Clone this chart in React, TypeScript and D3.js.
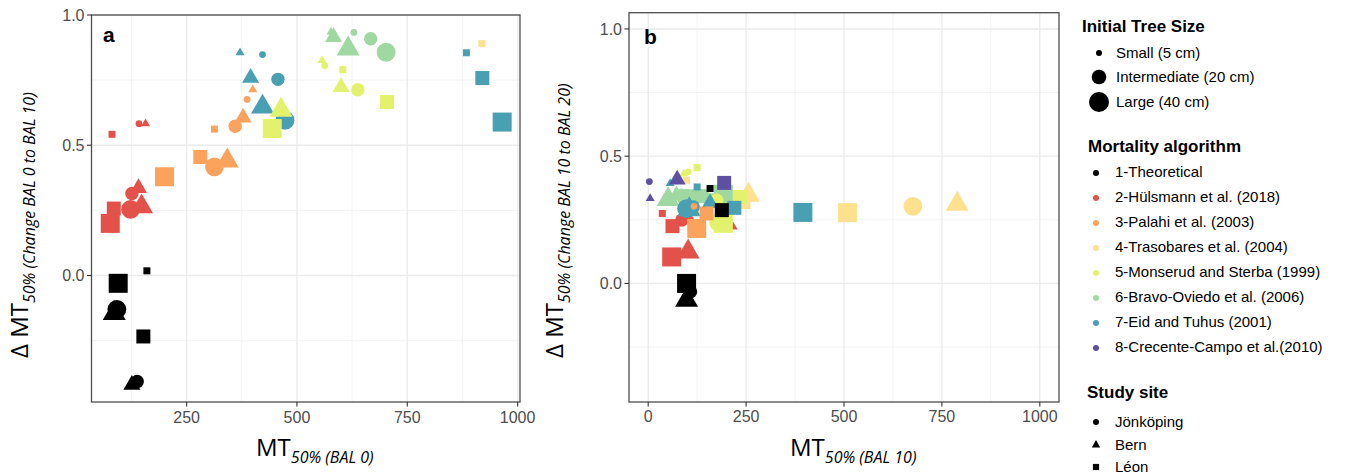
import React from 'react';
import * as d3 from 'd3';

const algorithms = [
  '1-Theoretical',
  '2-Hülsmann et al. (2018)',
  '3-Palahi et al. (2003)',
  '4-Trasobares et al. (2004)',
  '5-Monserud and Sterba (1999)',
  '6-Bravo-Oviedo et al. (2006)',
  '7-Eid and Tuhus (2001)',
  '8-Crecente-Campo et al.(2010)',
];
const algColors = ['#000000', '#E2514A', '#FBA35C', '#FEE18F', '#E3F26C', '#9FD8A0', '#4AA0B3', '#5E4FA2'];
const sizeLabels = ['Small (5 cm)', 'Intermediate (20 cm)', 'Large (40 cm)'];
const siteLabels = ['Jönköping', 'Bern', 'Léon'];

const xTicksA = [250, 500, 750, 1000];
const xMinorA = [125, 375, 625, 875];
const xTicksB = [0, 250, 500, 750, 1000];
const xMinorB = [125, 375, 625, 875];
const yTicks = [0, 0.5, 1.0];
const yMinor = [-0.25, 0.25, 0.75];

// [algorithm, size, site, MT50%, delta MT50%]
// panel a: BAL 0 -> BAL 10
const pointsA: number[][] = [
  [1, 0, 2, 81, 0.542], [1, 1, 2, 85, 0.257], [1, 2, 2, 77, 0.2],
  [1, 0, 0, 142, 0.583], [1, 1, 0, 126, 0.315], [1, 2, 0, 123, 0.254],
  [1, 0, 1, 157, 0.583], [1, 1, 1, 141, 0.336], [1, 2, 1, 148, 0.264],
  [2, 0, 2, 313, 0.562], [2, 1, 2, 281, 0.455], [2, 2, 2, 200, 0.379],
  [2, 0, 0, 387, 0.676], [2, 1, 0, 360, 0.573], [2, 2, 0, 313, 0.417],
  [2, 0, 1, 400, 0.713], [2, 1, 1, 378, 0.606], [2, 2, 1, 342, 0.44],
  [6, 0, 1, 371, 0.855], [6, 0, 0, 422, 0.848], [6, 1, 1, 395, 0.759],
  [6, 1, 0, 457, 0.753], [6, 2, 1, 422, 0.647], [6, 2, 0, 473, 0.596],
  [6, 0, 2, 884, 0.855], [6, 1, 2, 920, 0.758], [6, 2, 2, 965, 0.589],
  [4, 0, 1, 557, 0.826], [4, 0, 0, 563, 0.806], [4, 0, 2, 604, 0.79],
  [4, 1, 1, 600, 0.723], [4, 1, 0, 638, 0.713], [4, 1, 2, 704, 0.666],
  [4, 2, 2, 444, 0.564], [4, 2, 1, 464, 0.635],
  [5, 0, 1, 577, 0.934], [5, 1, 1, 583, 0.915], [5, 2, 1, 616, 0.87],
  [5, 0, 0, 629, 0.933], [5, 1, 0, 667, 0.909], [5, 2, 0, 702, 0.857],
  [3, 0, 2, 919, 0.89],
  [0, 0, 0, 140, -0.41], [0, 2, 2, 95, -0.03], [0, 0, 2, 160, 0.018],
  [0, 1, 2, 152, -0.234], [0, 2, 0, 92, -0.13], [0, 2, 1, 86, -0.145],
  [0, 1, 0, 138, -0.407], [0, 1, 1, 126, -0.42],
];

// panel b: BAL 10 -> BAL 20
const pointsB: number[][] = [
  [5, 2, 1, 51, 0.33], [5, 1, 1, 72, 0.345], [5, 2, 0, 98, 0.335], [5, 1, 0, 115, 0.345],
  [5, 1, 2, 137, 0.343], [5, 2, 2, 192, 0.35], [5, 0, 0, 85, 0.36], [5, 0, 1, 130, 0.355],
  [5, 0, 2, 160, 0.34],
  [1, 0, 2, 36, 0.275], [1, 1, 2, 62, 0.225], [1, 2, 2, 60, 0.104], [1, 2, 1, 102, 0.124],
  [1, 1, 0, 86, 0.249], [1, 1, 1, 100, 0.26], [1, 0, 1, 217, 0.222],
  [3, 0, 2, 98, 0.405], [3, 1, 2, 243, 0.32], [3, 2, 1, 256, 0.347],
  [3, 2, 2, 509, 0.278], [3, 2, 0, 676, 0.303], [3, 2, 1, 789, 0.312],
  [4, 0, 1, 91, 0.43], [4, 0, 0, 102, 0.438], [4, 0, 2, 125, 0.455],
  [4, 1, 0, 175, 0.327], [4, 1, 1, 175, 0.32], [4, 2, 0, 180, 0.24],
  [4, 2, 2, 192, 0.236], [4, 1, 2, 234, 0.34],
  [6, 0, 1, 56, 0.393], [6, 0, 2, 125, 0.379], [6, 2, 1, 105, 0.29],
  [6, 2, 0, 98, 0.294], [6, 1, 0, 115, 0.3], [6, 1, 1, 158, 0.316],
  [6, 1, 2, 220, 0.297], [6, 2, 2, 395, 0.279],
  [2, 2, 2, 124, 0.216], [2, 1, 2, 149, 0.275], [2, 0, 0, 117, 0.303],
  [7, 0, 0, 3, 0.4], [7, 0, 1, 5, 0.334], [7, 1, 1, 74, 0.408], [7, 1, 2, 194, 0.395],
  [0, 0, 2, 158, 0.373], [0, 1, 2, 188, 0.288], [0, 1, 0, 108, -0.033],
  [0, 2, 2, 98, 0.0], [0, 2, 1, 98, -0.066],
];

const shapes = [d3.symbolCircle, d3.symbolTriangle, d3.symbolSquare];
// marker extent in px per site shape (circle diameter, triangle width, square side) and size
const extents = [[6.8, 13.4, 18.8], [9, 17, 23], [7, 14, 19]];

function markArea(site: number, d: number) {
  if (site === 0) return (Math.PI * d * d) / 4;
  if (site === 1) return (Math.sqrt(3) * d * d) / 4;
  return d * d;
}
function markPath(site: number, d: number) {
  return d3.symbol(shapes[site], markArea(site, d))() as string;
}

const tickFont = "'Liberation Sans', Arial, sans-serif";
const titleFont = "'Open Sans', sans-serif";

type PanelProps = {
  pts: number[][];
  x: d3.ScaleLinear<number, number>;
  y: d3.ScaleLinear<number, number>;
  xTicks: number[];
  xMinor: number[];
  tag: string;
  tagX: number;
  tagY: number;
  xSub: string;
  xTitleX: number;
  ySub: string;
  yTitleX: number;
  labelY: number;
};

function Panel(p: PanelProps) {
  const { x, y } = p;
  const [x0, x1] = x.range();
  const [yb, yt] = y.range();
  return (
    <g>
      <rect x={x0} y={yt} width={x1 - x0} height={yb - yt} fill="#fff" />
      {yMinor.map((v) => (
        <line key={'ym' + v} x1={x0} x2={x1} y1={y(v)} y2={y(v)} stroke="#F0F0F0" strokeWidth={0.8} />
      ))}
      {p.xMinor.map((v) => (
        <line key={'xm' + v} y1={yt} y2={yb} x1={x(v)} x2={x(v)} stroke="#F0F0F0" strokeWidth={0.8} />
      ))}
      {yTicks.map((v) => (
        <line key={'yM' + v} x1={x0} x2={x1} y1={y(v)} y2={y(v)} stroke="#EBEBEB" strokeWidth={1.4} />
      ))}
      {p.xTicks.map((v) => (
        <line key={'xM' + v} y1={yt} y2={yb} x1={x(v)} x2={x(v)} stroke="#EBEBEB" strokeWidth={1.4} />
      ))}
      {p.pts.map((d, i) => (
        <path
          key={i}
          d={markPath(d[2], extents[d[2]][d[1]])}
          transform={`translate(${x(d[3])},${y(d[4])})`}
          fill={algColors[d[0]]}
        />
      ))}
      <rect x={x0} y={yt} width={x1 - x0} height={yb - yt} fill="none" stroke="#4D4D4D" strokeWidth={1.3} />
      {yTicks.map((v) => (
        <g key={'yt' + v}>
          <line x1={x0 - 4.5} x2={x0} y1={y(v)} y2={y(v)} stroke="#333" strokeWidth={1.1} />
          <text x={x0 - 7} y={y(v)} dy="0.36em" textAnchor="end" fontFamily={tickFont} fontSize={16} fill="#4D4D4D">
            {d3.format('.1f')(v)}
          </text>
        </g>
      ))}
      {p.xTicks.map((v) => (
        <g key={'xt' + v}>
          <line x1={x(v)} x2={x(v)} y1={yb} y2={yb + 4.5} stroke="#333" strokeWidth={1.1} />
          <text x={x(v)} y={p.labelY} textAnchor="middle" fontFamily={tickFont} fontSize={16} fill="#4D4D4D">
            {v}
          </text>
        </g>
      ))}
      <text x={p.tagX} y={p.tagY} fontFamily={tickFont} fontWeight="bold" fontSize={21} fill="#000">
        {p.tag}
      </text>
      <text x={p.xTitleX} y={456} fontFamily={titleFont} fontSize={24} fill="#000">
        <tspan>MT</tspan>
        <tspan fontSize={16} fontStyle="italic" dy={7}>{p.xSub}</tspan>
      </text>
      <text transform={`translate(${p.yTitleX},358) rotate(-90)`} fontFamily={titleFont} fontSize={24} fill="#000">
        <tspan>Δ MT</tspan>
        <tspan fontSize={16} fontStyle="italic" dy={7}>{p.ySub}</tspan>
      </text>
    </g>
  );
}

function Legend() {
  const sizeR = [3, 7.3, 10];
  const sizeY = [53, 77, 102];
  return (
    <g fontFamily={tickFont} fill="#000">
      <text x={1082} y={32} fontWeight="bold" fontSize={17}>Initial Tree Size</text>
      {sizeLabels.map((s, i) => (
        <g key={s}>
          <circle cx={1099} cy={sizeY[i]} r={sizeR[i]} fill="#000" />
          <text x={1116} y={sizeY[i] + 5} fontSize={15}>{s}</text>
        </g>
      ))}
      <text x={1088} y={152} fontWeight="bold" fontSize={17}>Mortality algorithm</text>
      {algorithms.map((a, i) => (
        <g key={a}>
          <circle cx={1096} cy={177 + 25 * i - 4} r={3} fill={algColors[i]} />
          <text x={1115} y={177 + 25 * i} fontSize={15}>{a}</text>
        </g>
      ))}
      <text x={1087} y={398} fontWeight="bold" fontSize={17}>Study site</text>
      {siteLabels.map((s, i) => {
        const base = [427, 450, 472][i];
        const d = [6, 8.5, 6.2][i];
        return (
          <g key={s}>
            <path d={markPath(i, d)} transform={`translate(1096,${base - 5})`} fill="#000" />
            <text x={1115} y={base} fontSize={15}>{s}</text>
          </g>
        );
      })}
    </g>
  );
}

export default function App() {
  const xA = d3.scaleLinear().domain([34.5, 1005.4]).range([91.5, 520]);
  const yA = d3.scaleLinear().domain([-0.4856, 1.0]).range([402, 15]);
  const xB = d3.scaleLinear().domain([-49, 1049]).range([629, 1059]);
  const yB = d3.scaleLinear().domain([-0.466, 1.0638]).range([402, 12.7]);
  return (
    <svg width={1346} height={475} style={{ position: 'absolute', left: 0, top: 0, background: '#fff' }}>
      <rect width={1346} height={475} fill="#fff" />
      <Panel pts={pointsA} x={xA} y={yA} xTicks={xTicksA} xMinor={xMinorA} tag="a" tagX={103} tagY={42}
        xSub="50% (BAL 0)" xTitleX={256} ySub="50% (Change BAL 0 to BAL 10)" yTitleX={28} labelY={423} />
      <Panel pts={pointsB} x={xB} y={yB} xTicks={xTicksB} xMinor={xMinorB} tag="b" tagX={644} tagY={44}
        xSub="50% (BAL 10)" xTitleX={790} ySub="50% (Change BAL 10 to BAL 20)" yTitleX={563} labelY={422} />
      <Legend />
    </svg>
  );
}
